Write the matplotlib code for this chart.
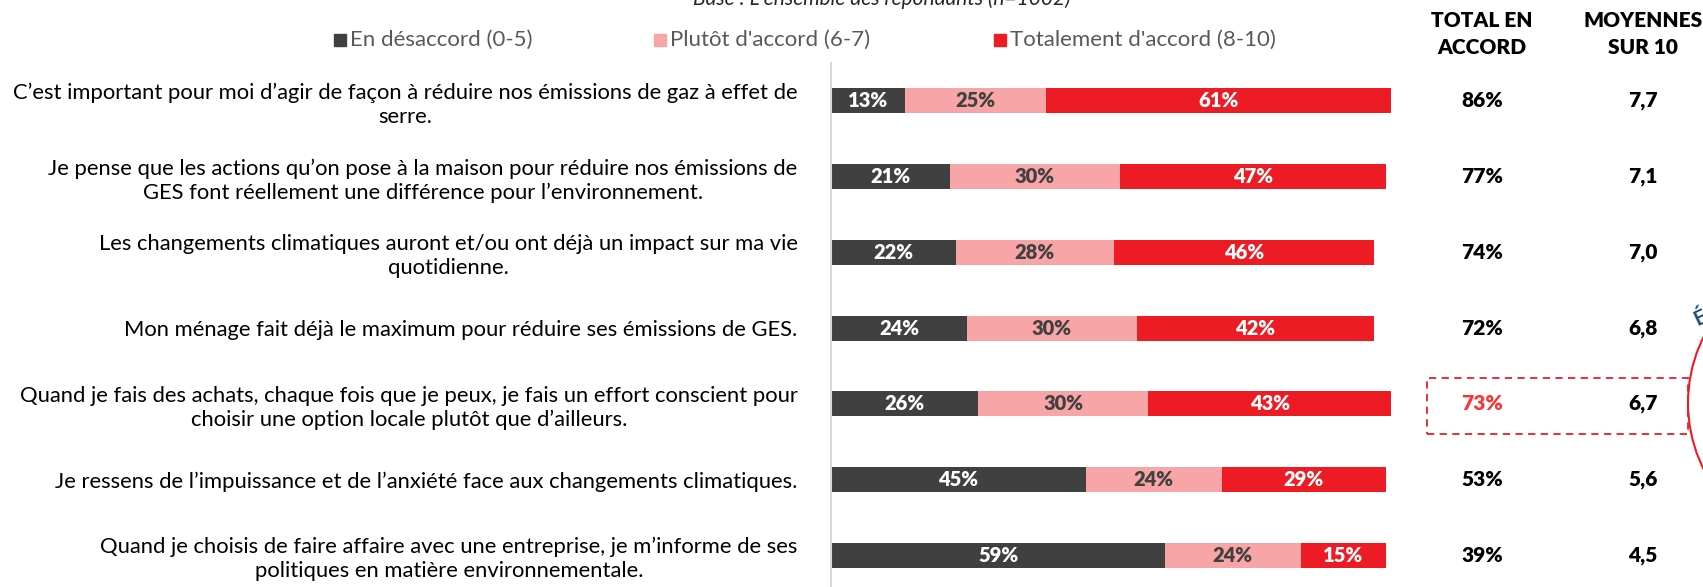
import matplotlib
matplotlib.use("Agg")
import matplotlib.pyplot as plt
from matplotlib.patches import Rectangle, Ellipse

plt.rcParams['font.family'] = ['Lato', 'DejaVu Sans']

statements = [
    "C\u2019est important pour moi d\u2019agir de façon à réduire nos émissions de gaz à effet de\nserre.",
    "Je pense que les actions qu\u2019on pose à la maison pour réduire nos émissions de\nGES font réellement une différence pour l\u2019environnement.",
    "Les changements climatiques auront et/ou ont déjà un impact sur ma vie\nquotidienne.",
    "Mon ménage fait déjà le maximum pour réduire ses émissions de GES.",
    "Quand je fais des achats, chaque fois que je peux, je fais un effort conscient pour\nchoisir une option locale plutôt que d\u2019ailleurs.",
    "Je ressens de l\u2019impuissance et de l\u2019anxiété face aux changements climatiques.",
    "Quand je choisis de faire affaire avec une entreprise, je m\u2019informe de ses\npolitiques en matière environnementale.",
]
series_names = ["En désaccord (0-5)", "Plutôt d'accord (6-7)", "Totalement d'accord (8-10)"]
desaccord = [13, 21, 22, 24, 26, 45, 59]
plutot = [25, 30, 28, 30, 30, 24, 24]
totalement = [61, 47, 46, 42, 43, 29, 15]
total_accord = ["86%", "77%", "74%", "72%", "73%", "53%", "39%"]
moyennes = ["7,7", "7,1", "7,0", "6,8", "6,7", "5,6", "4,5"]
highlight_row = 4

colors = ["#404040", "#F8A5A7", "#ED1C24"]
label_colors = ["white", "#404040", "white"]

W, H = 1703, 587
fig = plt.figure(figsize=(W / 100, H / 100), dpi=100)

def fx(px):
    return px / W

def fy(py):
    return 1 - py / H

# axes geometry (pixels)
ax_left, ax_right = 831, 831 + 566
ax_top, ax_bot = 63, 587
ax = fig.add_axes([fx(ax_left), fy(ax_bot), fx(ax_right - ax_left), (ax_bot - ax_top) / H])
ax.set_xlim(0, 100)
ax.set_ylim(6.42, -0.5)

ypos = list(range(len(statements)))
series = [desaccord, plutot, totalement]
left = [0] * len(statements)
for s, vals in enumerate(series):
    ax.barh(ypos, vals, left=left, height=0.33, color=colors[s], edgecolor='none')
    for i, v in enumerate(vals):
        ax.text(left[i] + v / 2, ypos[i], f"{v}%", ha='center', va='center',
                color=label_colors[s], fontsize=14.5, fontweight='heavy')
    left = [l + v for l, v in zip(left, vals)]

for sp in ['top', 'right', 'bottom']:
    ax.spines[sp].set_visible(False)
ax.spines['left'].set_color('#D9D9D9')
ax.spines['left'].set_linewidth(1.5)
ax.set_xticks([])
ax.set_yticks(ypos)
ax.set_yticklabels(statements, fontsize=15.8, multialignment='center', linespacing=1.25)
ax.tick_params(axis='y', length=0, pad=24)

# legend
leg_sq_x = [334, 654, 994]
for x0, name, c in zip(leg_sq_x, series_names, colors):
    fig.patches.append(Rectangle((fx(x0), fy(46)), 12 / W, 12 / H, transform=fig.transFigure,
                                 color=c, figure=fig))
    fig.text(fx(x0 + 16), fy(40), name, ha='left', va='center', fontsize=16, color='#595959')

# title (cut off at the top edge, as in the source)
fig.text(fx(882), fy(5), "Base : L\u2019ensemble des répondants (n=1002)", ha='center',
         va='baseline', fontsize=15, style='italic', color='#262626')

# right columns
col1, col2 = 1482, 1643
fig.text(fx(col1), fy(34), "TOTAL EN\nACCORD", ha='center', va='center', fontsize=15,
         fontweight='heavy', linespacing=1.5)
fig.text(fx(col2), fy(34), "MOYENNES\nSUR 10", ha='center', va='center', fontsize=15,
         fontweight='heavy', linespacing=1.5)
for i in ypos:
    c = '#FF3333' if i == highlight_row else 'black'
    ax.annotate(total_accord[i], xy=(0, i), xycoords=('figure fraction', 'data'),
                xytext=(col1, 0), textcoords=('figure pixels', 'offset points'),
                ha='center', va='center', fontsize=15, fontweight='heavy', color=c,
                annotation_clip=False)
    ax.annotate(moyennes[i], xy=(0, i), xycoords=('figure fraction', 'data'),
                xytext=(col2, 0), textcoords=('figure pixels', 'offset points'),
                ha='center', va='center', fontsize=15, fontweight='heavy', color='black',
                annotation_clip=False)

# dashed highlight box
fig.patches.append(Rectangle((fx(1427), fy(434)), (1688 - 1427) / W, (434 - 378) / H,
                             transform=fig.transFigure, fill=False, edgecolor='#ED1C24',
                             linestyle=(0, (4, 3)), linewidth=1.3, figure=fig))
# partial circle at the right edge
fig.patches.append(Ellipse((fx(1688 + 148), fy(403)), 296 / W, 296 / H,
                           transform=fig.transFigure, fill=False, edgecolor='#ED1C24',
                           linewidth=1.5, figure=fig))
fig.text(fx(1700), fy(318), "É", ha='center', va='center', fontsize=15, fontweight='bold',
         color='#1F4E79', rotation=25)

fig.savefig("out.png", dpi=100)
